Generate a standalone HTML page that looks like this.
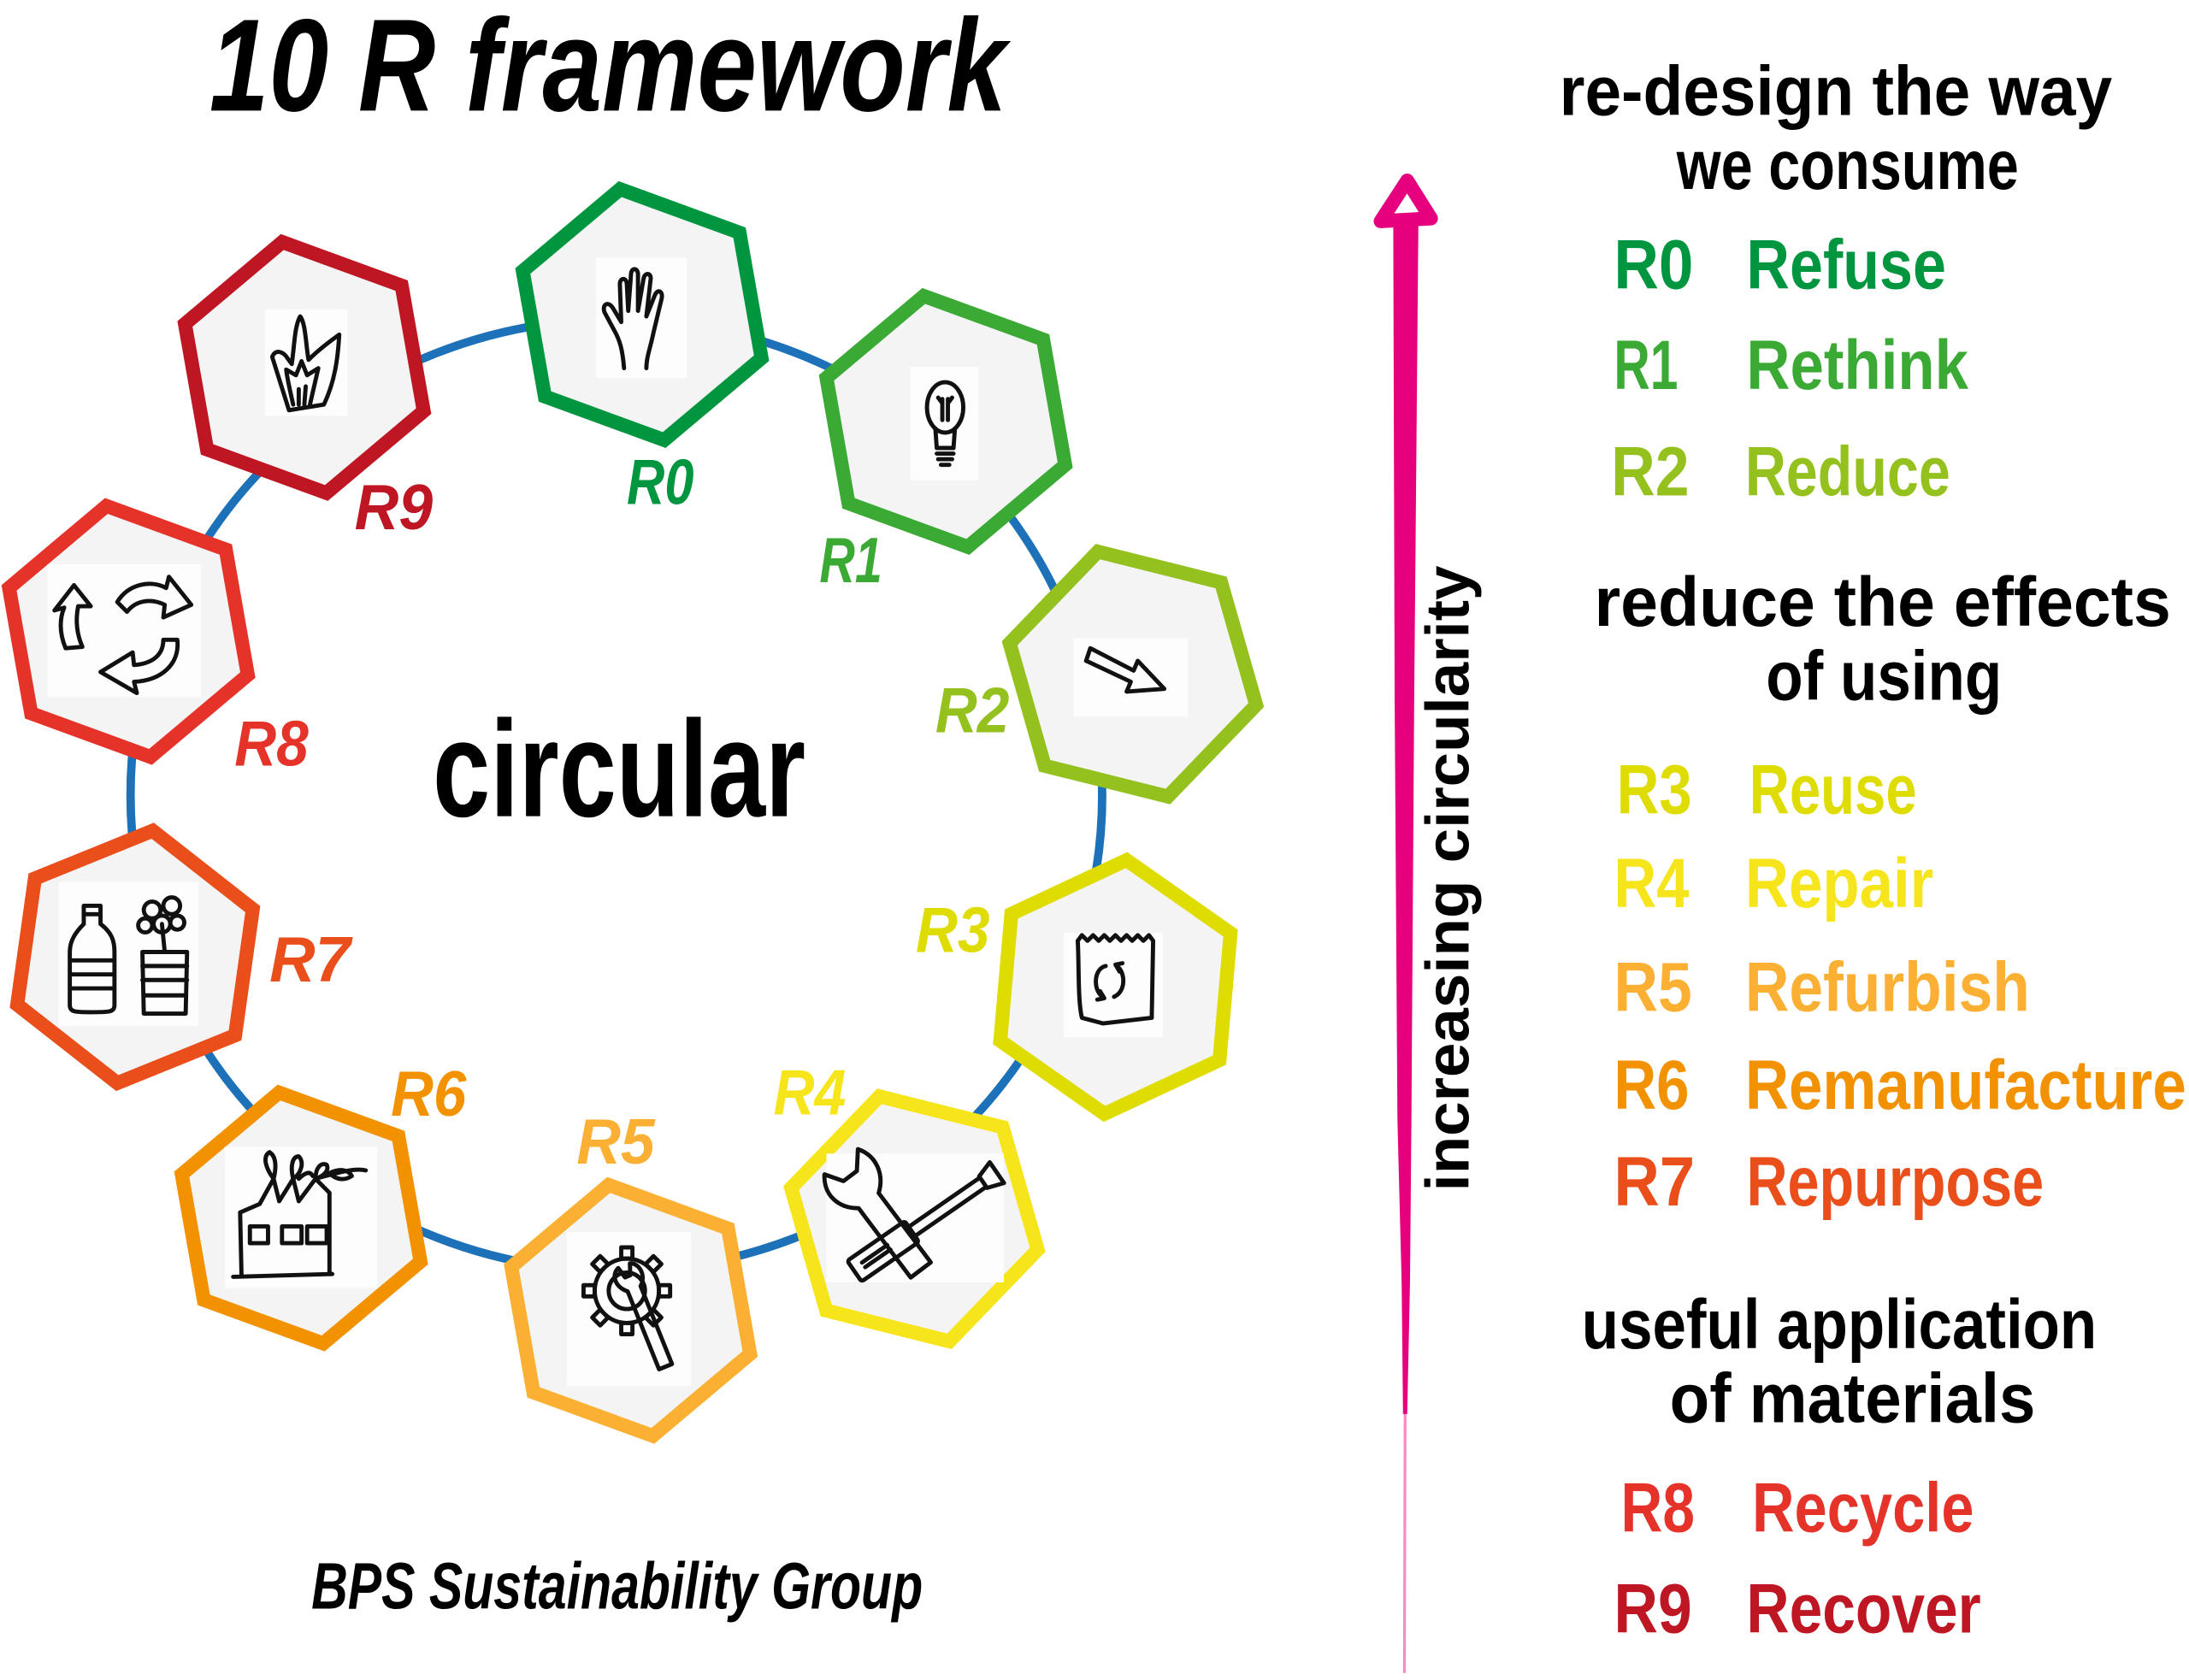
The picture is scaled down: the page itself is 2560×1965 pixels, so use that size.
<!DOCTYPE html>
<html>
<head>
<meta charset="utf-8">
<style>
html,body{margin:0;padding:0;background:#fff;overflow:hidden;}
svg{display:block;}
.t{font-family:"Liberation Sans","DejaVu Sans",sans-serif;font-weight:bold;font-style:italic;}
.u{font-family:"Liberation Sans","DejaVu Sans",sans-serif;font-weight:bold;font-style:normal;}
.ic{fill:none;stroke:#111;stroke-width:3;stroke-linecap:round;stroke-linejoin:round;}
</style>
</head>
<body>
<svg width="2560" height="1965" viewBox="0 0 1568 1200" preserveAspectRatio="none" xmlns="http://www.w3.org/2000/svg">
<rect x="0" y="0" width="1568" height="1200" fill="#fff"/>

<!-- Title -->
<text class="t" x="150" y="79" font-size="94" fill="#000" textLength="571" lengthAdjust="spacingAndGlyphs">10 R framework</text>

<!-- ring -->
<ellipse cx="441.5" cy="568" rx="348" ry="340" fill="none" stroke="#1d71b8" stroke-width="6"/>

<!-- hexagons -->
<defs>
<polygon id="hx" points="91,0 45.5,78.81 -45.5,78.81 -91,0 -45.5,-78.81 45.5,-78.81"/>
</defs>
<g fill="#f4f4f4" stroke-width="10" stroke-linejoin="miter">
<use href="#hx" transform="translate(460,224.7) rotate(20)" stroke="#009640"/>
<use href="#hx" transform="translate(677.5,301) rotate(20)" stroke="#3aaa35"/>
<use href="#hx" transform="translate(811.5,481.5) rotate(14)" stroke="#95c11f"/>
<use href="#hx" transform="translate(799,705) rotate(35)" stroke="#dedc00"/>
<use href="#hx" transform="translate(655,870.6) rotate(14)" stroke="#f7e51b"/>
<use href="#hx" transform="translate(451.8,936) rotate(20)" stroke="#fbb034"/>
<use href="#hx" transform="translate(215.7,870) rotate(20)" stroke="#f39200"/>
<use href="#hx" transform="translate(96.7,683.5) rotate(38)" stroke="#e94e1b"/>
<use href="#hx" transform="translate(92,451) rotate(20)" stroke="#e63329"/>
<use href="#hx" transform="translate(218,262.5) rotate(20)" stroke="#be1622"/>
</g>

<!-- icon backgrounds -->
<g fill="#fdfdfd">
<rect x="427" y="184" width="65" height="86"/>
<rect x="190" y="221" width="59" height="76"/>
<rect x="652" y="262" width="49" height="81"/>
<rect x="769" y="456" width="82" height="56"/>
<rect x="34" y="403" width="110" height="95"/>
<rect x="762" y="666" width="71" height="75"/>
<rect x="42" y="630" width="100" height="103"/>
<rect x="161" y="819" width="109" height="101"/>
<rect x="406" y="880" width="89" height="110"/>
<rect x="592" y="824" width="127" height="92"/>
</g>

<!-- icons -->
<!-- R0 hand -->
<path class="ic" d="M447,263 C446,250 444,243 440,236 L433,223 C431,217 436,215 439,220 L445,230 L444,203 C444,198 449,198 449,203 L450,222 L452,196 C452,191 457,191 457,196 L457,222 L461,199 C462,194 467,195 466,200 L463,226 L469,211 C471,206 475,208 474,213 L468,238 C466,248 463,255 463,263"/>
<!-- R9 flame -->
<path class="ic" d="M207,293 C203,280 199,268 195,255 C197,249 203,251 206,256 L209,260 C211,246 211,233 215,226 C219,231 219,246 221,257 C228,250 236,244 243,239 C242,256 240,272 232,289 Z"/>
<path class="ic" d="M210,289 C208,280 206,272 205,264 L212,268 L216,258 L220,268 L228,263 C226,272 224,280 222,289"/>
<path class="ic" d="M214,289 L214,278 M218,289 L219,276"/>
<!-- R1 bulb -->
<ellipse class="ic" cx="677" cy="291" rx="13" ry="18"/>
<path class="ic" d="M670,306 L671,320 L683,320 L684,306 M671,324 L683,324 M672,328 L682,328 M674,332 L680,332 M675,300 L675,285 M679,300 L679,285 M675,288 L672,284 M679,288 L682,284"/>
<!-- R2 arrow -->
<path class="ic" d="M778,472 L810,487 L807,494 L834,492 L815,472 L812,479 L781,463 Z"/>
<!-- R8 recycle -->
<path class="ic" d="M47,463 C42,451 43,441 46,434 L39,436 L53,418 L65,433 L56,433 C54,443 55,453 59,462 Z"/>
<path class="ic" d="M84,430 C92,417 108,414 119,420 L121,412 L137,432 L117,441 L118,432 C108,427 97,429 91,437 Z"/>
<path class="ic" d="M127,457 C129,474 116,486 96,487 L98,495 L72,480 L95,466 L96,475 C109,474 117,468 117,457 Z"/>
<!-- R3 bag -->
<path class="ic" d="M772,672 L775,668 L779,672 L783,668 L787,672 L791,668 L795,672 L799,668 L803,672 L807,668 L811,672 L815,668 L819,672 L823,668 L826,672 L825,727 L790,731 L775,727 C772,715 773,690 772,672 Z"/>
<path class="ic" d="M792,690 C783,692 783,708 790,712 M788,708 L791,713 L786,714 M798,712 C807,708 806,694 800,690 M802,694 L799,689 L804,688"/>
<!-- R7 bottle + plant -->
<path class="ic" d="M60,647 L72,647 L72,660 C80,666 82,672 82,680 L82,718 C82,723 78,723 66,723 C54,723 50,723 50,718 L50,680 C50,672 54,666 60,660 Z M50,686 L82,686 M50,696 L82,696 M50,706 L82,706 M60,653 L72,653"/>
<path class="ic" d="M102,680 L134,680 L133,724 L103,724 Z M102,690 L134,690 M102,700 L134,700 M103,711 L133,711 M118,680 L116,660"/>
<circle class="ic" cx="109" cy="650" r="6"/>
<circle class="ic" cx="123" cy="647" r="6"/>
<circle class="ic" cx="116" cy="660" r="6"/>
<circle class="ic" cx="127" cy="659" r="5"/>
<circle class="ic" cx="104" cy="661" r="5"/>
<!-- R6 factory -->
<path class="ic" d="M173,911 L172,866 L186,860 L196,842 L200,858 L210,842 L214,858 L226,842 L236,852 L236,909 M167,912 L238,910"/>
<rect class="ic" x="179" y="876" width="13" height="12"/>
<rect class="ic" x="202" y="876" width="14" height="12"/>
<rect class="ic" x="220" y="876" width="14" height="12"/>
<path class="ic" d="M196,842 C190,834 188,826 193,823 C198,826 198,834 196,842 M210,842 C208,834 209,826 214,826 C218,830 216,838 210,842 M226,842 C226,834 230,830 234,832 C236,836 232,840 226,842 M214,842 C218,838 222,836 224,840 M236,838 C244,834 250,836 252,840 C246,844 240,842 236,838 M226,842 C240,838 254,834 262,836"/>
<!-- R5 gear + wrench -->
<g transform="translate(449,922)" class="ic">
<circle r="23"/>
<circle r="13"/>
<rect x="-4" y="-31" width="8" height="8"/>
<rect x="-4" y="-31" width="8" height="8" transform="rotate(45)"/>
<rect x="-4" y="-31" width="8" height="8" transform="rotate(90)"/>
<rect x="-4" y="-31" width="8" height="8" transform="rotate(135)"/>
<rect x="-4" y="-31" width="8" height="8" transform="rotate(180)"/>
<rect x="-4" y="-31" width="8" height="8" transform="rotate(225)"/>
<rect x="-4" y="-31" width="8" height="8" transform="rotate(270)"/>
<rect x="-4" y="-31" width="8" height="8" transform="rotate(315)"/>
</g>
<g transform="translate(452,915) rotate(68)" class="ic">
<path d="M6,-5 L66,-5 L66,5 L6,5 M6,-5 C0,-12 -10,-10 -12,-4 L-4,-1 L-4,3 L-12,5 C-9,12 0,12 6,5"/>
</g>
<!-- R4 tools -->
<g transform="translate(612,908) rotate(-34.6)" class="ic">
<rect x="0" y="-9" width="50" height="18" rx="2"/>
<path d="M8,-2 L30,-2 M8,2 L30,2"/>
<rect x="50" y="-4" width="62" height="8"/>
<path d="M112,-5 L124,-9 L124,9 L112,5"/>
</g>
<g transform="translate(615,848) rotate(53)" class="ic">
<path d="M12,-9 L74,-9 L74,9 L12,9 M12,-9 C4,-20 -10,-24 -22,-16 L-10,-6 L-10,6 L-22,14 C-10,24 4,20 12,9"/>
</g>

<!-- hex labels -->
<g class="t" font-size="46">
<text x="449" y="360" fill="#009640" textLength="48" lengthAdjust="spacingAndGlyphs">R0</text>
<text x="587" y="416" fill="#3aaa35" textLength="45" lengthAdjust="spacingAndGlyphs">R1</text>
<text x="670" y="523" fill="#95c11f" textLength="53" lengthAdjust="spacingAndGlyphs">R2</text>
<text x="656" y="680" fill="#dedc00" textLength="53" lengthAdjust="spacingAndGlyphs">R3</text>
<text x="554" y="796" fill="#f7e51b" textLength="52" lengthAdjust="spacingAndGlyphs">R4</text>
<text x="413" y="831" fill="#fbb034" textLength="56" lengthAdjust="spacingAndGlyphs">R5</text>
<text x="280" y="797" fill="#f39200" textLength="54" lengthAdjust="spacingAndGlyphs">R6</text>
<text x="193" y="701" fill="#e94e1b" textLength="58" lengthAdjust="spacingAndGlyphs">R7</text>
<text x="168" y="547" fill="#e63329" textLength="53" lengthAdjust="spacingAndGlyphs">R8</text>
<text x="254" y="378" fill="#be1622" textLength="56" lengthAdjust="spacingAndGlyphs">R9</text>
</g>

<!-- circular -->
<text class="u" x="310" y="583" font-size="98" fill="#000" textLength="267" lengthAdjust="spacingAndGlyphs">circular</text>

<!-- BPS -->
<text class="t" x="223" y="1149" font-size="47" fill="#000" textLength="438" lengthAdjust="spacingAndGlyphs">BPS Sustainability Group</text>

<!-- magenta arrow -->
<g fill="#e6007e">
<path d="M998,160 L1016,160 L1013,500 L1011,800 L1010,916 L1008,1010 L1005,1010 L1004,916 L1001,800 L999,500 Z"/>
</g>
<path d="M1006.5,1010 L1006,1195" stroke="#e6007e" stroke-width="2" opacity="0.45" fill="none"/>
<polygon points="1008,129 989,158 1025,156" fill="none" stroke="#e6007e" stroke-width="10" stroke-linejoin="round"/>

<!-- increasing circularity -->
<text class="u" transform="translate(1052,851) rotate(-90)" x="0" y="0" font-size="44" fill="#000" textLength="447" lengthAdjust="spacingAndGlyphs">increasing circularity</text>

<!-- right list -->
<g class="u" font-size="50" fill="#000">
<text x="1117" y="82" textLength="396" lengthAdjust="spacingAndGlyphs">re-design the way</text>
<text x="1201" y="135" textLength="245" lengthAdjust="spacingAndGlyphs">we consume</text>
<text x="1142" y="447" textLength="413" lengthAdjust="spacingAndGlyphs">reduce the effects</text>
<text x="1265" y="500" textLength="169" lengthAdjust="spacingAndGlyphs">of using</text>
<text x="1133" y="963" textLength="369" lengthAdjust="spacingAndGlyphs">useful application</text>
<text x="1196" y="1016" textLength="262" lengthAdjust="spacingAndGlyphs">of materials</text>
</g>
<g class="u" font-size="50">
<text x="1156" y="206" fill="#009640" textLength="57" lengthAdjust="spacingAndGlyphs">R0</text>
<text x="1251" y="206" fill="#009640" textLength="143" lengthAdjust="spacingAndGlyphs">Refuse</text>
<text x="1156" y="278" fill="#3aaa35" textLength="46" lengthAdjust="spacingAndGlyphs">R1</text>
<text x="1251" y="278" fill="#3aaa35" textLength="159" lengthAdjust="spacingAndGlyphs">Rethink</text>
<text x="1154" y="354" fill="#95c11f" textLength="56" lengthAdjust="spacingAndGlyphs">R2</text>
<text x="1250" y="354" fill="#95c11f" textLength="147" lengthAdjust="spacingAndGlyphs">Reduce</text>
<text x="1158" y="581" fill="#dedc00" textLength="54" lengthAdjust="spacingAndGlyphs">R3</text>
<text x="1253" y="581" fill="#dedc00" textLength="120" lengthAdjust="spacingAndGlyphs">Reuse</text>
<text x="1156" y="648" fill="#f7e51b" textLength="54" lengthAdjust="spacingAndGlyphs">R4</text>
<text x="1250" y="648" fill="#f7e51b" textLength="135" lengthAdjust="spacingAndGlyphs">Repair</text>
<text x="1156" y="722" fill="#fbb034" textLength="56" lengthAdjust="spacingAndGlyphs">R5</text>
<text x="1250" y="722" fill="#fbb034" textLength="204" lengthAdjust="spacingAndGlyphs">Refurbish</text>
<text x="1156" y="792" fill="#f39200" textLength="54" lengthAdjust="spacingAndGlyphs">R6</text>
<text x="1250" y="792" fill="#f39200" textLength="316" lengthAdjust="spacingAndGlyphs">Remanufacture</text>
<text x="1156" y="861" fill="#e94e1b" textLength="58" lengthAdjust="spacingAndGlyphs">R7</text>
<text x="1251" y="861" fill="#e94e1b" textLength="213" lengthAdjust="spacingAndGlyphs">Repurpose</text>
<text x="1161" y="1094" fill="#e63329" textLength="53" lengthAdjust="spacingAndGlyphs">R8</text>
<text x="1255" y="1094" fill="#e63329" textLength="159" lengthAdjust="spacingAndGlyphs">Recycle</text>
<text x="1156" y="1166" fill="#be1622" textLength="56" lengthAdjust="spacingAndGlyphs">R9</text>
<text x="1251" y="1166" fill="#be1622" textLength="168" lengthAdjust="spacingAndGlyphs">Recover</text>
</g>
</svg>
</body>
</html>
